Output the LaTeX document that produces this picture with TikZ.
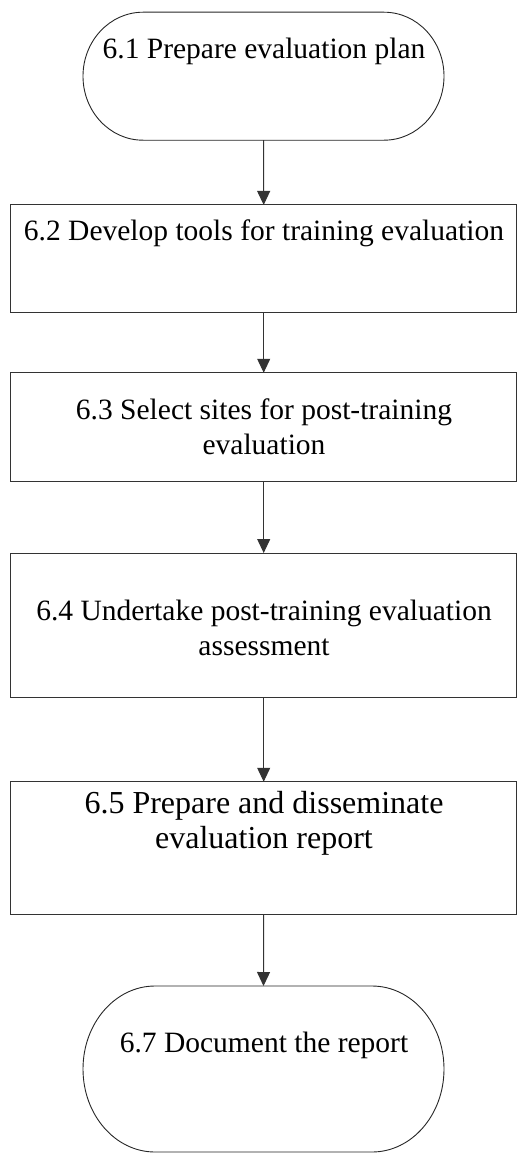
\documentclass[tikz,border=0pt]{standalone}
\usepackage{fontspec}
\setmainfont{Liberation Serif}
\usetikzlibrary{arrows.meta}
\tikzset{
  boxshape/.style={draw=black!80, line width=1pt, rectangle, inner sep=0pt, outer sep=0pt},
  stadshape/.style={draw=none, rectangle, inner sep=0pt, outer sep=0pt},
  stadline/.style={draw=black!85, line width=0.9pt},
  label/.style={font=\fontsize{29.5}{35}\selectfont, align=center, inner sep=0pt, anchor=base},
  biglabel/.style={font=\fontsize{32}{35}\selectfont, align=center, inner sep=0pt, anchor=base},
  arr/.style={draw=black!80, line width=1pt, -{Triangle[width=13pt,length=14pt]}}
}
\begin{document}
\begin{tikzpicture}[x=1pt,y=-1pt]
\useasboundingbox (0,0) rectangle (517,1153);
% stadium 1
\node[stadshape, minimum width=361pt, minimum height=128pt] (s1) at (263.5,76.2) {};
\draw[stadline] ([xshift=60pt]s1.north west) -- ([xshift=-60pt]s1.north east)
  arc[start angle=90, end angle=-90, x radius=60pt, y radius=64pt]
  -- ([xshift=60pt]s1.south west)
  arc[start angle=270, end angle=90, x radius=60pt, y radius=64pt] -- cycle;
\node[label] (t1) at (264,59) {6.1 Prepare evaluation plan};
% boxes
\node[boxshape, minimum width=506pt, minimum height=107.5pt] (b2) at (263.7,258.7) {};
\node[label] (t2) at (264,240.7) {6.2 Develop tools for training evaluation};
\node[boxshape, minimum width=506pt, minimum height=108.3pt] (b3) at (263.7,426.9) {};
\node[label] (t3) at (264,454) {6.3 Select sites for post-training\\evaluation};
\node[boxshape, minimum width=506pt, minimum height=144pt] (b4) at (263.7,625) {};
\node[label] (t4) at (264,655) {6.4 Undertake post-training evaluation\\assessment};
\node[boxshape, minimum width=506pt, minimum height=132.3pt] (b5) at (263.7,847.9) {};
\node[biglabel] (t5) at (264,848) {6.5 Prepare and disseminate\\evaluation report};
% stadium 2
\node[stadshape, minimum width=361pt, minimum height=166pt] (s2) at (263.5,1069) {};
\draw[stadline] ([xshift=72pt]s2.north west) -- ([xshift=-72pt]s2.north east)
  arc[start angle=90, end angle=-90, x radius=72pt, y radius=83pt]
  -- ([xshift=72pt]s2.south west)
  arc[start angle=270, end angle=90, x radius=72pt, y radius=83pt] -- cycle;
\node[label] (t6) at (264,1052) {6.7 Document the report};
% connectors
\draw[arr] (s1.south) -- (b2.north);
\draw[arr] (b2.south) -- (b3.north);
\draw[arr] (b3.south) -- (b4.north);
\draw[arr] (b4.south) -- (b5.north);
\draw[arr] (b5.south) -- (s2.north);
\end{tikzpicture}
\end{document}
